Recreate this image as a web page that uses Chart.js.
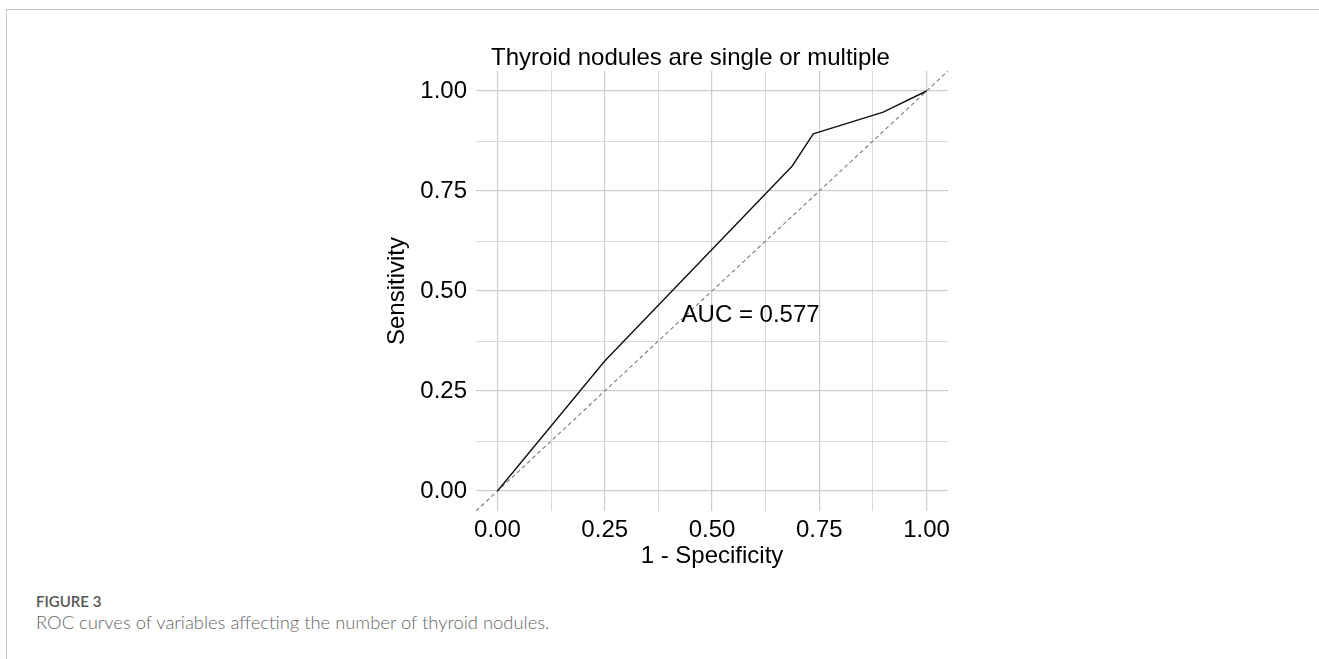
<!DOCTYPE html>
<html>
<head>
<title>ROC curve</title>
<meta charset="UTF-8">
<script src="https://cdn.jsdelivr.net/npm/chart.js"></script>
<style>
body { margin: 0; background: #fff; width: 1319px; height: 659px; overflow: hidden; position: relative; }
.frame { position: absolute; left: 6px; top: 9px; right: 0; bottom: 0; border-top: 1px solid #c6c6c6; border-left: 1px solid #c6c6c6; }
.chart-box { position: absolute; left: 380px; top: 30px; width: 621px; height: 541px; }
.fig-label { position: absolute; left: 36px; top: 591px; font: 600 15px Lato, "Open Sans", sans-serif; line-height: 20px; color: #555; }
.fig-caption { position: absolute; left: 36px; top: 610px; font: 300 18.4px Lato, "Open Sans", sans-serif; line-height: 24px; color: #666; }
</style>
<script>
// ROC curve
const fpr = [0, 0.25, 0.687, 0.736, 0.899, 1];
const tpr = [0, 0.325, 0.8125, 0.893, 0.947, 1];
// reference diagonal across the whole panel
const refX = [-0.05, 1.05];
const refY = [-0.05, 1.05];
const gridValues = [0, 0.125, 0.25, 0.375, 0.5, 0.625, 0.75, 0.875, 1];
const aucLabel = "AUC = 0.577";
const aucPos = [0.59, 0.439];
const chartTitle = "Thyroid nodules are single or multiple";

const FONT = "'Liberation Sans', Arial, Helvetica, sans-serif";

function isMajor(v) {
  return Math.abs(v * 4 - Math.round(v * 4)) < 1e-9;
}

const aucText = {
  id: "aucText",
  afterDatasetsDraw(chart) {
    const ctx = chart.ctx;
    ctx.save();
    ctx.font = "24px " + FONT;
    ctx.fillStyle = "#000";
    ctx.textAlign = "center";
    ctx.textBaseline = "middle";
    ctx.fillText(aucLabel, chart.scales.x.getPixelForValue(aucPos[0]), chart.scales.y.getPixelForValue(aucPos[1]));
    ctx.restore();
  }
};

function axisOptions(title, isX) {
  return {
    type: "linear",
    min: -0.05,
    max: 1.05,
    afterBuildTicks: function(scale) {
      scale.ticks = gridValues.map(v => ({ value: v }));
    },
    afterFit: function(scale) {
      if (isX) scale.height = 60; else scale.width = 96;
    },
    grid: {
      drawTicks: false,
      color: ctx => (ctx.tick && isMajor(ctx.tick.value)) ? "#cdcdcd" : "#d9d9d9",
      lineWidth: ctx => (ctx.tick && isMajor(ctx.tick.value)) ? 1.2 : 1
    },
    border: { display: false },
    ticks: {
      autoSkip: false,
      maxRotation: 0,
      padding: isX ? 5 : 9,
      color: "#000",
      font: { family: FONT, size: 24 },
      callback: function(v) { return isMajor(v) ? v.toFixed(2) : ""; }
    },
    title: {
      display: true,
      text: title,
      color: "#000",
      font: { family: FONT, size: 24 },
      padding: isX ? { top: 0, bottom: 0 } : { top: 3, bottom: 0 }
    }
  };
}

window.onload = function() {
  const ctx = document.getElementById("roc").getContext("2d");
  new Chart(ctx, {
    type: "scatter",
    data: {
      datasets: [
        {
          label: "ROC",
          data: fpr.map((x, i) => ({ x: x, y: tpr[i] })),
          showLine: true,
          borderColor: "#111",
          borderWidth: 1.4,
          pointRadius: 0,
          tension: 0
        },
        {
          label: "reference",
          data: refX.map((x, i) => ({ x: x, y: refY[i] })),
          showLine: true,
          borderColor: "#7a7a7a",
          borderWidth: 1.1,
          borderDash: [4, 3],
          pointRadius: 0
        }
      ]
    },
    options: {
      responsive: true,
      maintainAspectRatio: false,
      animation: false,
      layout: { padding: { top: 13.6, right: 0, bottom: 0, left: 0 } },
      plugins: {
        legend: { display: false },
        tooltip: { enabled: false },
        title: {
          display: true,
          text: chartTitle,
          color: "#000",
          font: { family: FONT, size: 24, weight: "normal" },
          padding: { top: 0, bottom: -1.4 }
        }
      },
      scales: {
        x: axisOptions("1 - Specificity", true),
        y: axisOptions("Sensitivity", false),
        // empty right-hand spacer so the title centres over the whole figure
        spacer: {
          type: "linear",
          position: "right",
          grid: { display: false },
          border: { display: false },
          ticks: { display: false },
          afterFit: function(scale) { scale.width = 53; }
        }
      }
    },
    plugins: [aucText]
  });
};
</script>
</head>
<body>
<div class="frame"></div>
<div class="chart-box"><canvas id="roc"></canvas></div>
<div class="fig-label">FIGURE 3</div>
<div class="fig-caption">ROC curves of variables affecting the number of thyroid nodules.</div>
</body>
</html>
